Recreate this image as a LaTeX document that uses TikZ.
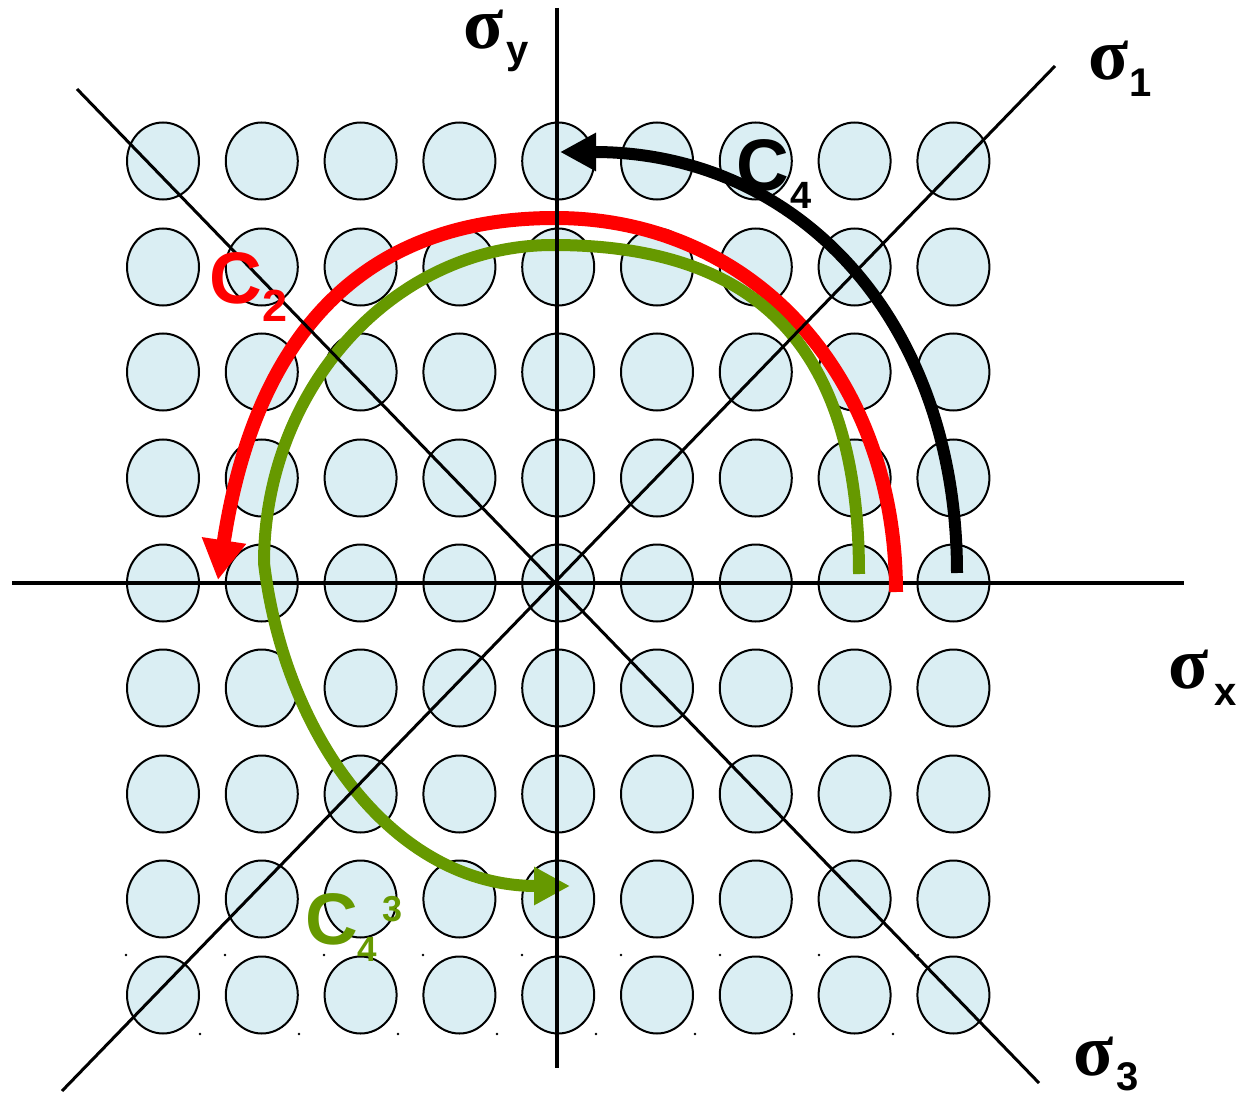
\documentclass[tikz,border=0pt]{standalone}
\usepackage{fontspec}
\newfontfamily\arl{Liberation Sans}
\newfontfamily\tml{Liberation Serif}
\usetikzlibrary{arrows.meta,shapes.geometric}
\definecolor{dotfill}{HTML}{DAEEF3}
\definecolor{cgreen}{HTML}{669900}
\begin{document}
\begin{tikzpicture}[x=1pt,y=-1pt,
  dotc/.style={ellipse, draw=black, line width=2pt, fill=dotfill, minimum width=72pt, minimum height=77pt, inner sep=0pt},
  axisline/.style={line width=4pt},
  mirrorline/.style={line width=3pt},
  rotarc/.style={line width=12pt, line cap=butt},
  sig/.style={inner sep=0pt, anchor=base west, text height=36pt, text depth=0pt, font=\tml\bfseries\fontsize{74}{80}\selectfont},
  sublab/.style={inner sep=0pt, anchor=base west, font=\arl\bfseries\fontsize{40}{44}\selectfont},
  clab/.style={inner sep=0pt, anchor=base west, font=\arl\bfseries\fontsize{73}{80}\selectfont},
]
\useasboundingbox (0,0) rectangle (1243,1094);
% grid of discs
\foreach \i in {0,...,8}
  \foreach \yy [count=\j] in {161,267,372,478,583,688,794,899,995}
    \node[dotc] (c\i-\j) at ({163+98.8*\i},\yy) {};
% small dots
\foreach \k in {0,...,8} \fill ({126+99*\k},955) circle (1.3pt);
\foreach \k in {0,...,7} \fill ({200+99*\k},1034) circle (1.3pt);
% horizontal axis (below the arcs)
\coordinate (hl) at (12,583);
\coordinate (hr) at (1184,583);
\draw[axisline] (hl) -- (hr);
% rotation arcs
\coordinate (k0) at (957,573);
\coordinate (k1) at (560,152);
\draw[rotarc, black, -{Triangle[length=36pt,width=36pt]}]
  (k0) .. controls (957,320) and (798,152) .. (k1);
\coordinate (r0) at (896,592);
\coordinate (rm) at (555,218);
\coordinate (r1) at (218,580);
\draw[rotarc, red, line width=14pt, -{Triangle[length=40pt,width=42pt]}]
  (r0) .. controls (896,375) and (752,218) .. (rm)
       .. controls (346,218) and (252,356) .. (r1);
\coordinate (g0) at (859,574);
\coordinate (gm) at (553,245);
\coordinate (gk) at (264,563);
\coordinate (g1) at (570,886);
\draw[rotarc, cgreen, -{Triangle[length=36pt,width=36pt]}]
  (g0) .. controls (859,350) and (761,245) .. (gm)
       .. controls (394,245) and (264,388) .. (gk)
       .. controls (285,738) and (395,886) .. (g1);
% vertical axis and mirror lines
\coordinate (vt) at (557,8);
\coordinate (vb) at (557,1068);
\coordinate (d1a) at (1055,66);
\coordinate (d1b) at (62,1091);
\coordinate (d3a) at (77,89);
\coordinate (d3b) at (1039,1083);
\draw[axisline] (vt) -- (vb);
\draw[mirrorline] (d1a) -- (d1b);
\draw[mirrorline] (d3a) -- (d3b);
% labels
\node[sig] (sy) at (463,49) {σ};
\node[sublab] (sy-i) at (506,64) {y};
\node[sig] (s1) at (1088,80) {σ};
\node[sublab] (s1-i) at (1129,97) {1};
\node[sig] (sx) at (1168,688) {σ};
\node[sublab] (sx-i) at (1214,705) {x};
\node[sig] (s3) at (1073,1075) {σ};
\node[sublab, text depth=0pt] (s3-i) at (1116,1090) {3};
\node[clab, black] (c4) at (736,191) {C};
\node[sublab, black, font=\arl\bfseries\fontsize{38}{42}\selectfont] (c4-i) at (790,209) {4};
\node[clab, red] (c2) at (209,304) {C};
\node[sublab, red, font=\arl\bfseries\fontsize{45}{50}\selectfont] (c2-i) at (262,322) {2};
\node[clab, cgreen] (c43) at (305,944) {C};
\node[sublab, cgreen, font=\arl\bfseries\fontsize{35}{40}\selectfont] (c43-i) at (357,961) {4};
\node[sublab, cgreen, font=\arl\bfseries\fontsize{36}{40}\selectfont] (c43-s) at (382,921) {3};
\end{tikzpicture}
\end{document}
